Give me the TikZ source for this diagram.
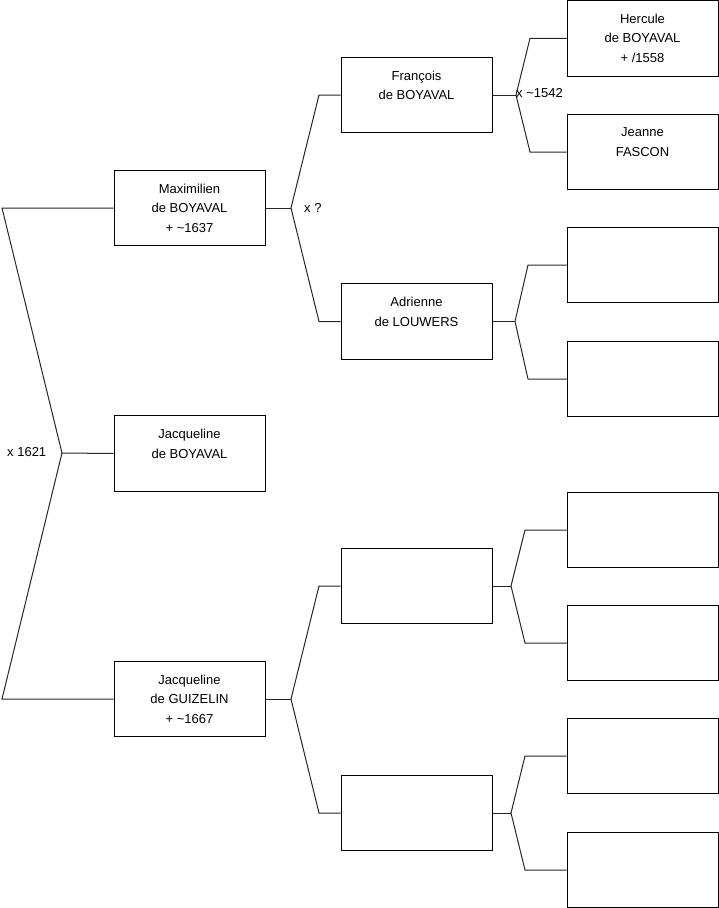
\documentclass[tikz,border=0pt]{standalone}
\usepackage{fontspec}
\setmainfont{Liberation Sans}
\begin{document}
\begin{tikzpicture}[x=1pt,y=-1pt,
  person/.style={draw=black, line width=1pt, fill=white, minimum width=151pt, minimum height=75.6pt,
    inner sep=0pt, align=center, font=\fontsize{13}{19.6}\selectfont},
  conn/.style={draw=black!85, line width=1pt},
  mlabel/.style={inner sep=0pt, font=\fontsize{13}{15}\selectfont}]
\useasboundingbox (0,0) rectangle (719,908);
% generation 1
\node[person] (maxi) at (189.5,208) {Maximilien\\de BOYAVAL\\+ \textasciitilde1637};
\node[person] (jacb) at (189.5,453.5) {Jacqueline\\de BOYAVAL\\\mbox{}};
\node[person] (jacg) at (189.5,699) {Jacqueline\\de GUIZELIN\\+ \textasciitilde1667};
% generation 2
\node[person] (fran) at (416.5,95) {François\\de BOYAVAL\\\mbox{}};
\node[person] (adri) at (416.5,321.5) {Adrienne\\de LOUWERS\\\mbox{}};
\node[person] (e1) at (416.5,586) {};
\node[person] (e2) at (416.5,813) {};
% generation 3
\node[person] (herc) at (642.5,38.3) {Hercule\\de BOYAVAL\\+ /1558};
\node[person] (jean) at (642.5,152) {Jeanne\\FASCON\\\mbox{}};
\node[person] (g3) at (642.5,265) {};
\node[person] (g4) at (642.5,379) {};
\node[person] (g5) at (642.5,530) {};
\node[person] (g6) at (642.5,643) {};
\node[person] (g7) at (642.5,756) {};
\node[person] (g8) at (642.5,870) {};
% fork points
\coordinate (froot) at (62,453);
\coordinate (kr1) at (2,208);
\coordinate (kr2) at (2,699);
\coordinate (fmaxi) at (291,208);
\coordinate (fjacg) at (291,699);
\coordinate (ffran) at (516,95);
\coordinate (fadri) at (515,321.5);
\coordinate (fe1) at (511,586);
\coordinate (fe2) at (511,813);
% root
\draw[conn] (maxi.west) -- (kr1) -- (froot) -- (kr2) -- (jacg.west);
\draw[conn] (froot) -- (jacb.west);
% Maximilien
\draw[conn] (maxi.east) -- (fmaxi);
\draw[conn] (fran.west) -- (319,95) -- (fmaxi) -- (319,321.5) -- (adri.west);
% Jacqueline de Guizelin
\draw[conn] (jacg.east) -- (fjacg);
\draw[conn] (e1.west) -- (319,586) -- (fjacg) -- (319,813) -- (e2.west);
% François
\draw[conn] (fran.east) -- (ffran);
\draw[conn] (herc.west) -- (530,38.3) -- (ffran) -- (530,152) -- (jean.west);
% Adrienne
\draw[conn] (adri.east) -- (fadri);
\draw[conn] (g3.west) -- (528,265) -- (fadri) -- (528,379) -- (g4.west);
% empty 1
\draw[conn] (e1.east) -- (fe1);
\draw[conn] (g5.west) -- (525,530) -- (fe1) -- (525,643) -- (g6.west);
% empty 2
\draw[conn] (e2.east) -- (fe2);
\draw[conn] (g7.west) -- (525,756) -- (fe2) -- (525,870) -- (g8.west);
% marriage labels
\node[mlabel, anchor=west] (l1621) at (7,452) {x 1621};
\node[mlabel, anchor=west] (lq) at (304,208) {x ?};
\node[mlabel, anchor=west] (l1542) at (516,93) {x \textasciitilde1542};
\end{tikzpicture}
\end{document}
